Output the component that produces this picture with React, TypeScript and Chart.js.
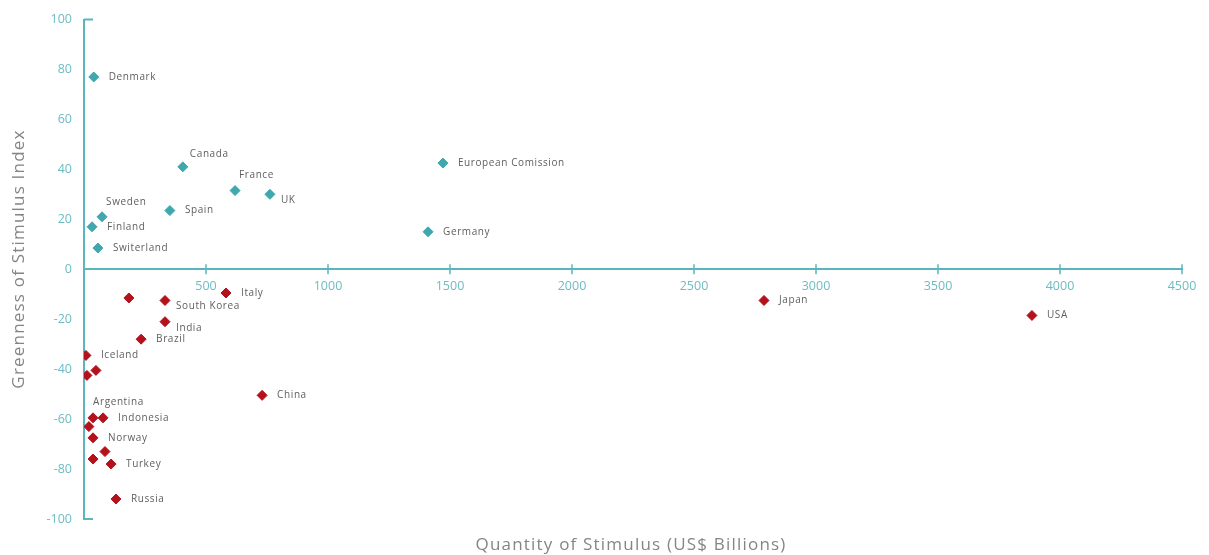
import React, { useEffect, useRef } from "react";
import { Chart, registerables } from "chart.js";

Chart.register(...registerables);

// Green-leaning stimulus (positive index)
const greenNames = ["Denmark", "Canada", "France", "UK", "European Comission", "Sweden", "Spain", "Finland", "Germany", "Switerland"];
const greenX = [40, 405, 619, 762, 1471, 74, 352, 33, 1410, 57];
const greenY = [77, 41, 31.5, 30, 42.5, 21, 23.5, 17, 15, 8.5];
const greenPlace = ["r", "ar", "a", "br", "r", "a", "r", "r", "r", "r"];

// Brown-leaning stimulus (negative index)
const brownNames = ["", "South Korea", "Italy", "India", "Brazil", "Iceland", "", "", "China", "Japan", "USA", "Argentina", "Indonesia", "", "Norway", "", "", "Turkey", "Russia"];
const brownX = [184, 332, 582, 332, 234, 8, 49, 12, 730, 2787, 3885, 37, 78, 20, 37, 86, 37, 111, 131];
const brownY = [-11.5, -12.5, -9.5, -21, -28, -34.5, -40.5, -42.5, -50.5, -12.5, -18.5, -59.5, -59.5, -63, -67.5, -73, -76, -78, -92];
const brownPlace = ["r", "br", "r", "br", "r", "r", "r", "r", "r", "r", "r", "a", "r", "r", "r", "r", "r", "r", "r"];

const xTicksMax = 4500;
const xStep = 500;
const yMin = -100;
const yMax = 100;
const yStep = 20;

const xTitle = "Quantity of Stimulus (US$ Billions)";
const yTitle = "Greenness of Stimulus Index";

const TEAL = "#3fa7ae";
const AXIS = "#5ab6bc";
const TICK_TXT = "#6cbcc2";
const RED = "#b3111c";
const LABEL = "#5e5e5e";
const TITLE = "#858585";
const FONT = "'Open Sans', Lato, sans-serif";

const toPoints = (xs: number[], ys: number[]) => xs.map((x, i) => ({ x, y: ys[i] }));

const decorPlugin = {
  id: "decor",
  afterDraw(chart: any) {
    const ctx = chart.ctx;
    const xs = chart.scales.x;
    const ys = chart.scales.y;
    const y0 = ys.getPixelForValue(0);
    const left = chart.chartArea.left;
    ctx.save();
    // x axis tick marks crossing the axis
    ctx.strokeStyle = AXIS;
    ctx.lineWidth = 1.5;
    for (let v = xStep; v <= xTicksMax; v += xStep) {
      const px = xs.getPixelForValue(v);
      ctx.beginPath();
      ctx.moveTo(px, y0 - 5);
      ctx.lineTo(px, y0 + 5);
      ctx.stroke();
    }
    // y axis end caps
    ctx.lineWidth = 2;
    [yMax, yMin].forEach((v) => {
      const py = ys.getPixelForValue(v);
      ctx.beginPath();
      ctx.moveTo(left, py);
      ctx.lineTo(left + 9, py);
      ctx.stroke();
    });
    // point labels
    ctx.font = "10px " + FONT;
    (ctx as any).letterSpacing = "0.6px";
    ctx.fillStyle = LABEL;
    ctx.textBaseline = "middle";
    const sets = [
      { names: greenNames, place: greenPlace, idx: 0 },
      { names: brownNames, place: brownPlace, idx: 1 },
    ];
    sets.forEach((s) => {
      const meta = chart.getDatasetMeta(s.idx);
      meta.data.forEach((el: any, i: number) => {
        const name = s.names[i];
        if (!name) return;
        let dx = 15, dy = 0;
        const p = s.place[i];
        if (p === "ar") { dx = 7; dy = -13; }
        else if (p === "a") { dx = 4; dy = -15; }
        else if (p === "br") { dx = 11; dy = 6; }
        if (s.idx === 1 && p === "a") { dx = 0; dy = -16; }
        ctx.textAlign = "left";
        ctx.fillText(name, el.x + dx, el.y + dy);
      });
    });
    // axis titles
    ctx.font = "17px " + FONT;
    (ctx as any).letterSpacing = "1.2px";
    ctx.fillStyle = TITLE;
    ctx.textAlign = "center";
    ctx.textBaseline = "middle";
    ctx.fillText(xTitle, 631, 545);
    ctx.translate(19, 259);
    ctx.rotate(-Math.PI / 2);
    ctx.fillText(yTitle, 0, 0);
    ctx.restore();
  },
};

export default function App() {
  const ref = useRef<HTMLCanvasElement>(null);
  useEffect(() => {
    if (!ref.current) return;
    const chart = new Chart(ref.current, {
      type: "scatter",
      data: {
        datasets: [
          {
            label: "Green",
            data: toPoints(greenX, greenY),
            backgroundColor: TEAL,
            borderColor: TEAL,
            pointStyle: "rectRot",
            pointRadius: 5,
            pointHoverRadius: 5,
          },
          {
            label: "Brown",
            data: toPoints(brownX, brownY),
            backgroundColor: RED,
            borderColor: RED,
            pointStyle: "rectRot",
            pointRadius: 5,
            pointHoverRadius: 5,
          },
        ],
      },
      options: {
        animation: false,
        responsive: false,
        maintainAspectRatio: false,
        layout: { padding: { top: 18, bottom: 36, right: 27, left: 0 } },
        plugins: { legend: { display: false }, tooltip: { enabled: false } },
        scales: {
          x: {
            type: "linear",
            min: 0,
            max: xTicksMax,
            position: { y: 0 } as any,
            grid: { display: false, drawTicks: false },
            border: { display: true, color: AXIS, width: 2 },
            ticks: {
              stepSize: xStep,
              color: TICK_TXT,
              font: { family: FONT, size: 12.5 },
              padding: 10,
              callback: (v: any) => (v === 0 ? "" : String(v)),
            },
          },
          y: {
            type: "linear",
            min: yMin,
            max: yMax,
            grid: { display: false, drawTicks: false },
            border: { display: true, color: AXIS, width: 2 },
            ticks: {
              stepSize: yStep,
              color: TICK_TXT,
              font: { family: FONT, size: 12.5 },
              padding: 12,
            },
            afterFit: (scale: any) => {
              scale.width = 84;
            },
          },
        },
      },
      plugins: [decorPlugin],
    });
    return () => chart.destroy();
  }, []);
  return (
    <div style={{ position: "absolute", left: 0, top: 0, width: 1209, height: 555, background: "#fff" }}>
      <canvas ref={ref} width={1209} height={555} style={{ width: 1209, height: 555 }} />
    </div>
  );
}
